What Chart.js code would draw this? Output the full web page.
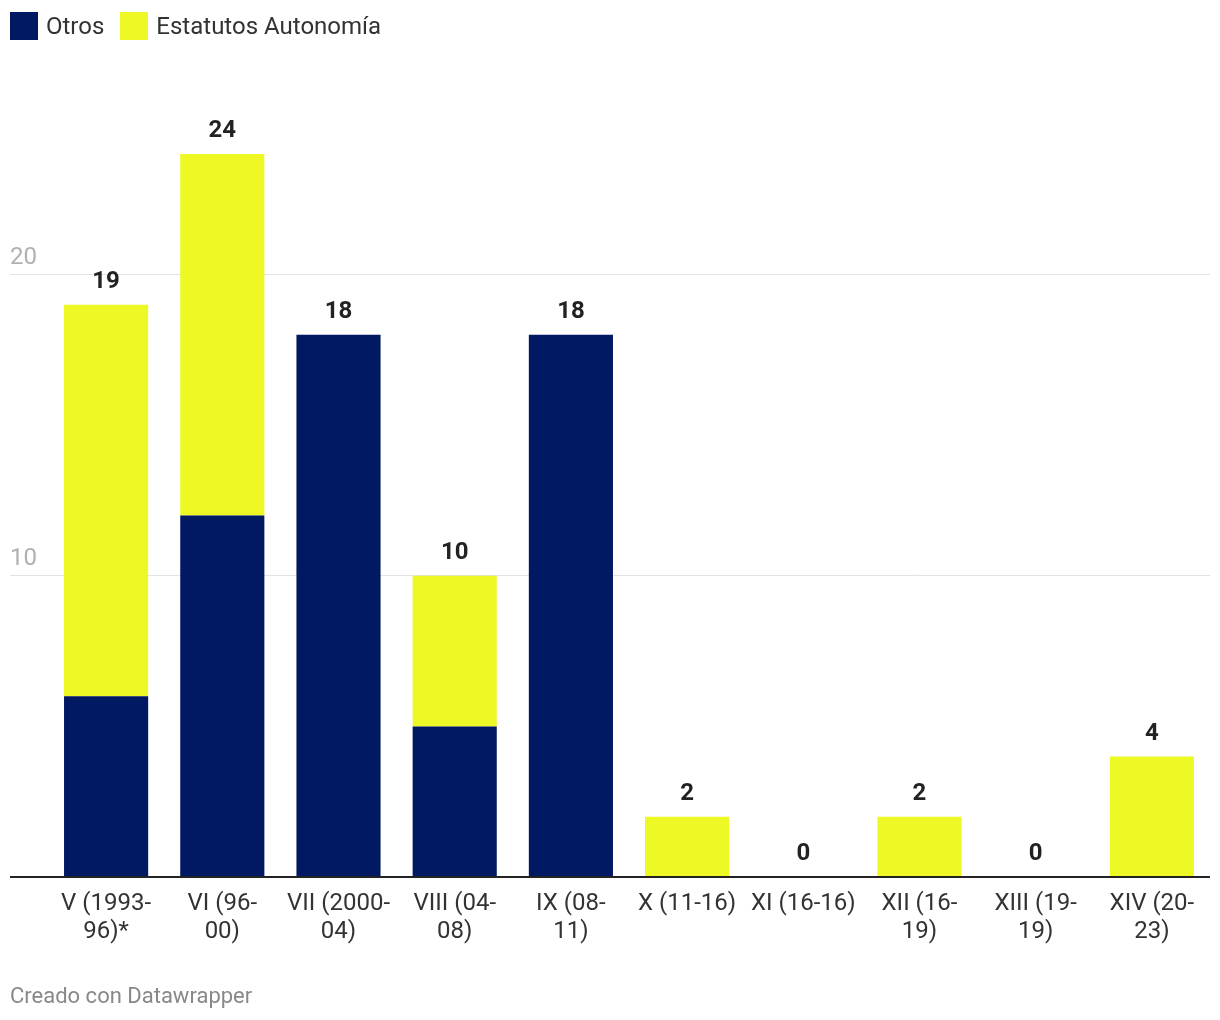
<!DOCTYPE html>
<html>
<head>
<meta charset="utf-8">
<script src="https://cdn.jsdelivr.net/npm/chart.js@4.4.0/dist/chart.umd.min.js"></script>
<style>
  body { margin: 0; background: #fff; font-family: Roboto, sans-serif; }
  #wrap { position: relative; width: 1220px; height: 1020px; }
  canvas { position: absolute; left: 0; top: 0; }
  .legend { position: absolute; left: 10px; top: 12px; display: flex; align-items: center; font-size: 24px; color: #333; }
  .legend .sw { width: 28px; height: 28px; margin-right: 8px; }
  .legend .item { display: flex; align-items: center; margin-right: 16px; }
  .footer { position: absolute; left: 10px; top: 983px; font-size: 22px; color: #888; }
</style>
</head>
<body>
<div id="wrap">
  <canvas id="chart" width="1220" height="1020"></canvas>
  <div class="legend">
    <div class="item"><div class="sw" style="background:#011862"></div>Otros</div>
    <div class="item"><div class="sw" style="background:#edf824"></div>Estatutos Autonomía</div>
  </div>
  <div class="footer">Creado con Datawrapper</div>
</div>
<script>
// Legislaturas
const labels = [
    ['V (1993-', '96)*'],
    ['VI (96-', '00)'],
    ['VII (2000-', '04)'],
    ['VIII (04-', '08)'],
    ['IX (08-', '11)'],
    'X (11-16)',
    'XI (16-16)',
    ['XII (16-', '19)'],
    ['XIII (19-', '19)'],
    ['XIV (20-', '23)']
];
const otros = [6, 12, 18, 5, 18, 0, 0, 0, 0, 0];
const estatutos = [13, 12, 0, 5, 0, 2, 0, 2, 0, 4];
const yTicks = [10, 20];

const NAVY = '#011862';
const YELLOW = '#edf824';

// totals on top of each bar
const totalLabels = {
    id: 'totalLabels',
    afterDatasetsDraw(chart) {
        const ctx = chart.ctx;
        const meta = chart.getDatasetMeta(1);
        ctx.save();
        ctx.font = 'bold 24px Roboto';
        ctx.fillStyle = '#222';
        ctx.textAlign = 'center';
        ctx.textBaseline = 'middle';
        meta.data.forEach((bar, i) => {
            const total = otros[i] + estatutos[i];
            ctx.fillText(String(total), bar.x, bar.y - 23);
        });
        ctx.restore();
    }
};

// y tick labels sitting above grid lines
const yLabels = {
    id: 'yLabels',
    afterDraw(chart) {
        const ctx = chart.ctx;
        const y = chart.scales.y;
        ctx.save();
        ctx.font = '24px Roboto';
        ctx.fillStyle = '#b0b0b0';
        ctx.textAlign = 'left';
        ctx.textBaseline = 'middle';
        yTicks.forEach(v => {
            ctx.fillText(String(v), 10, y.getPixelForValue(v) - 17);
        });
        ctx.restore();
    }
};

new Chart(document.getElementById('chart'), {
    type: 'bar',
    data: {
        labels: labels,
        datasets: [
            { label: 'Otros', data: otros, backgroundColor: NAVY },
            { label: 'Estatutos Autonomía', data: estatutos, backgroundColor: YELLOW }
        ]
    },
    options: {
        responsive: false,
        animation: false,
        layout: { padding: { left: 10, right: 10, top: 124, bottom: 0 } },
        datasets: { bar: { barPercentage: 0.724, categoryPercentage: 1 } },
        plugins: { legend: { display: false }, tooltip: { enabled: false } },
        scales: {
            x: {
                stacked: true,
                grid: { display: false, drawTicks: false },
                border: { display: false },
                ticks: { color: '#333', font: { family: 'Roboto', size: 24, lineHeight: 1.17 }, padding: 13, maxRotation: 0, autoSkip: false },
                afterFit(scale) { scale.height = 143; }
            },
            y: {
                stacked: true,
                min: 0,
                max: 25,
                afterBuildTicks(scale) { scale.ticks = [0, ...yTicks].map(v => ({ value: v })); },
                ticks: { display: false },
                border: { display: false },
                grid: {
                    tickLength: 38,
                    color: ctx => ctx.tick && ctx.tick.value === 0 ? '#222' : '#e2e2e2',
                    lineWidth: ctx => ctx.tick && ctx.tick.value === 0 ? 2 : 1
                },
                afterFit(scale) { scale.width = 38; }
            }
        }
    },
    plugins: [totalLabels, yLabels]
});
</script>
</body>
</html>
